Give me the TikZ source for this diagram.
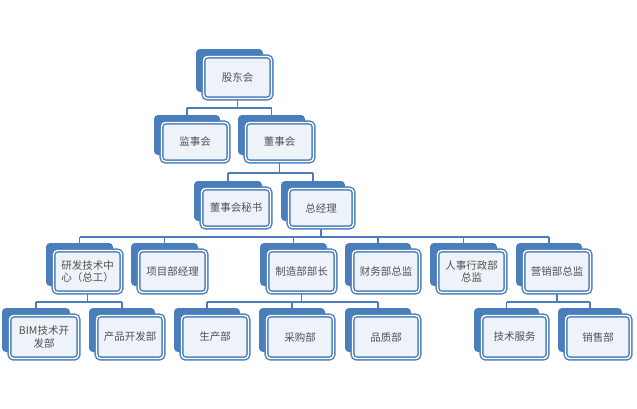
\documentclass[tikz,border=0pt]{standalone}
\usepackage{fontspec}
\newfontfamily\cjk{Noto Sans CJK SC}
\definecolor{bl}{HTML}{4A7EBB}
\definecolor{lf}{HTML}{EEF3FA}
\definecolor{tx}{HTML}{505050}
\tikzset{
 frontbox/.style={draw=bl,line width=1.4pt,double=white,double distance=1.4pt,fill=lf,rounded corners=4pt,inner sep=1pt,align=center,font=\cjk\fontsize{10.5}{12.5}\selectfont,text=tx},
 backbox/.style={fill=bl,rounded corners=4pt,inner sep=0pt},
 conn/.style={draw=bl,line width=1.8pt}
}
\newcommand\mybx[6]{%
 \pgfmathsetmacro\cx{(#2+#4)/2}\pgfmathsetmacro\cy{(#3+#5)/2}%
 \pgfmathsetmacro\w{#4-#2-4}\pgfmathsetmacro\h{#5-#3-2}%
 \pgfmathsetmacro\fw{#4-#2-3}\pgfmathsetmacro\fh{#5-#3-3}%
 \node[backbox,minimum width=\w pt,minimum height=\h pt] (#1b) at (\cx-8,\cy-7) {};%
 \node[frontbox,minimum width=\fw pt,minimum height=\fh pt] (#1) at (\cx,\cy) {#6};}
\pgfdeclarelayer{bg}\pgfdeclarelayer{bgw}\pgfsetlayers{bgw,bg,main}
\begin{document}
\begin{tikzpicture}[x=1pt,y=-1pt]
\useasboundingbox (0,0) rectangle (637,408);
\begin{pgfonlayer}{bgw}\fill[white] (0,0) rectangle (637,408);\end{pgfonlayer}
\coordinate (b1) at (0,108);
\coordinate (b2) at (0,173);
\coordinate (b3) at (0,237);
\coordinate (b4) at (0,302);
\mybx{A}{202}{55}{273}{100}{股东会}
\mybx{B}{160}{121}{230}{163}{监事会}
\mybx{C}{244}{121}{315}{163}{董事会}
\mybx{D}{200}{187}{272}{229}{董事会秘书}
\mybx{E}{287}{187}{355}{229}{总经理}
\mybx{F}{52}{249}{123}{294}{研发技术中\\心（总工）}
\mybx{G}{137}{249}{208}{294}{项目部经理}
\mybx{H}{266}{249}{337}{294}{制造部部长}
\mybx{I}{351}{249}{421}{294}{财务部总监}
\mybx{J}{436}{249}{507}{294}{人事行政部\\总监}
\mybx{K}{522}{249}{592}{294}{营销部总监}
\mybx{L}{8}{314}{80}{360}{BIM技术开\\发部}
\mybx{M}{95}{314}{165}{360}{产品开发部}
\mybx{N}{180}{314}{250}{360}{生产部}
\mybx{O}{265}{314}{335}{360}{采购部}
\mybx{P}{351}{314}{421}{360}{品质部}
\mybx{Q}{480}{314}{549}{360}{技术服务}
\mybx{R}{564}{314}{632}{360}{销售部}
\begin{pgfonlayer}{bg}
\draw[conn] (A.south) -- (A.south |- b1);
\draw[conn] (Bb.north |- b1) -- (Cb.north |- b1);
\foreach \c in {B,C} \draw[conn] (\c b.north |- b1) -- (\c b.north);
\draw[conn] (C.south) -- (C.south |- b2);
\draw[conn] (Db.north |- b2) -- (Eb.north |- b2);
\foreach \c in {D,E} \draw[conn] (\c b.north |- b2) -- (\c b.north);
\draw[conn] (E.south) -- (E.south |- b3);
\draw[conn] (Fb.north |- b3) -- (Kb.north |- b3);
\foreach \c in {F,G,H,I,J,K} \draw[conn] (\c b.north |- b3) -- (\c b.north);
\draw[conn] (F.south) -- (F.south |- b4);
\draw[conn] (Lb.north |- b4) -- (Mb.north |- b4);
\foreach \c in {L,M} \draw[conn] (\c b.north |- b4) -- (\c b.north);
\draw[conn] (H.south) -- (H.south |- b4);
\draw[conn] (Nb.north |- b4) -- (Pb.north |- b4);
\foreach \c in {N,O,P} \draw[conn] (\c b.north |- b4) -- (\c b.north);
\draw[conn] (K.south) -- (K.south |- b4);
\draw[conn] (Qb.north |- b4) -- (Rb.north |- b4);
\foreach \c in {Q,R} \draw[conn] (\c b.north |- b4) -- (\c b.north);
\end{pgfonlayer}
\end{tikzpicture}
\end{document}
